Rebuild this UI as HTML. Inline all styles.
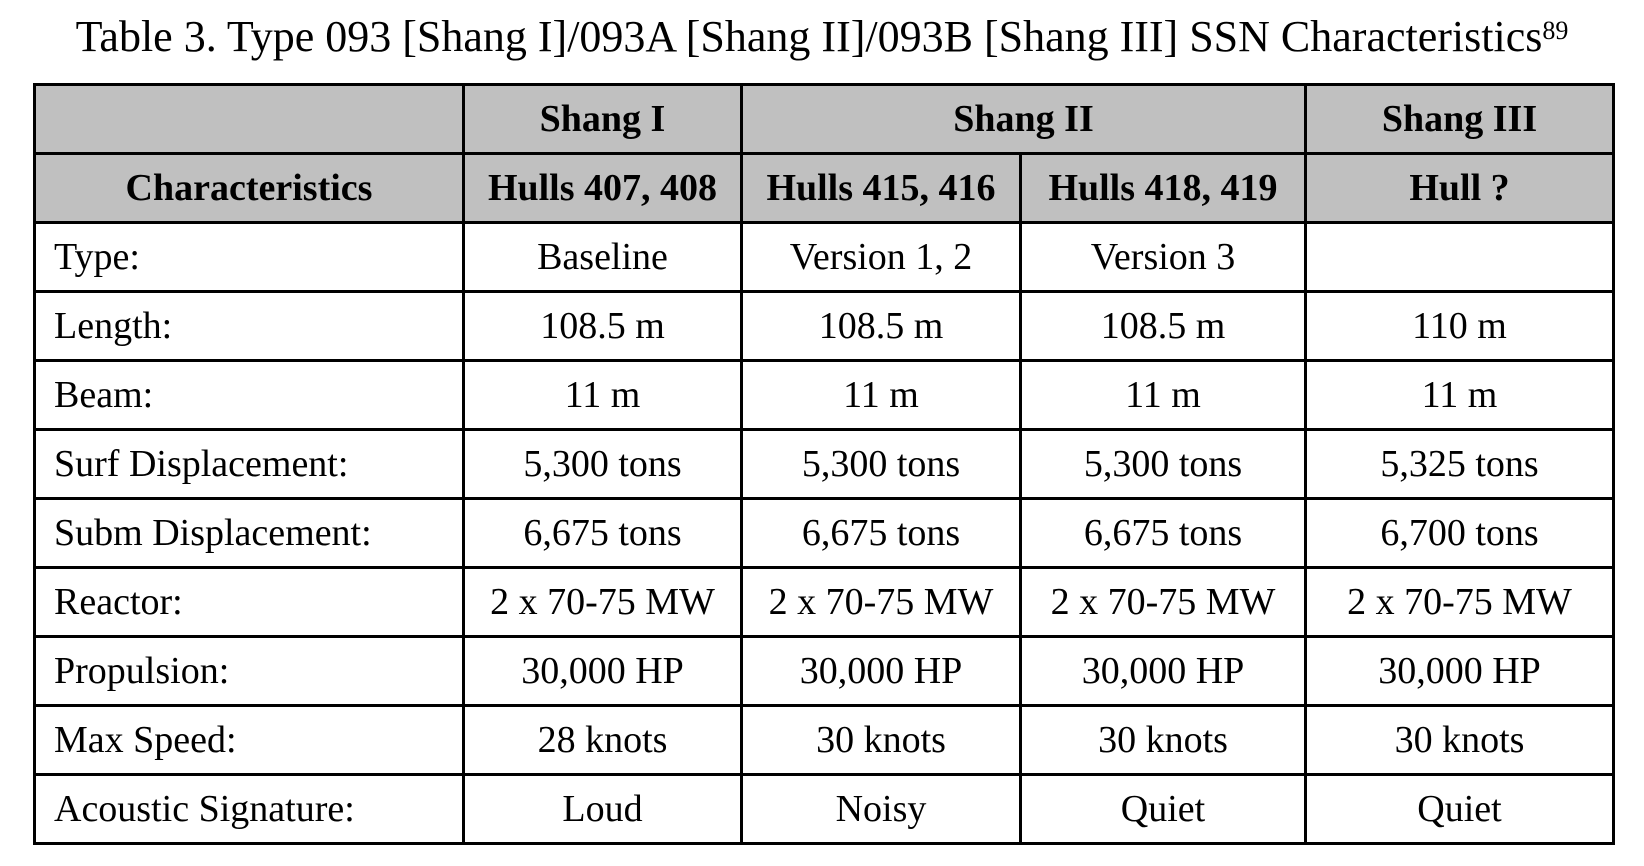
<!DOCTYPE html>
<html><head><style>
body{margin:0;width:1644px;height:866px;background:#fff;font-family:"Liberation Serif",serif;position:relative;overflow:hidden}
.t{position:absolute;top:8px;left:0;width:1644px;text-align:center;font-size:44px;line-height:58px;color:#000}
.t sup{font-size:26px;vertical-align:top;position:relative;top:-6px}
table{position:absolute;left:33px;top:83px;border-collapse:collapse;table-layout:fixed}
td{border:3px solid #000;height:66px;font-size:38px;text-align:center;padding:0;white-space:nowrap}
td.l{text-align:left;padding-left:18px}
.h td{background:#c0c0c0;font-weight:bold}
</style></head><body>
<div class="t">Table 3. Type 093 [Shang I]/093A [Shang II]/093B [Shang III] SSN Characteristics<sup>89</sup></div>
<table>
<colgroup><col style="width:429px"><col style="width:278px"><col style="width:279px"><col style="width:285px"><col style="width:308px"></colgroup>
<tr class="h"><td></td><td>Shang I</td><td colspan="2">Shang II</td><td>Shang III</td></tr>
<tr class="h"><td>Characteristics</td><td>Hulls 407, 408</td><td>Hulls 415, 416</td><td>Hulls 418, 419</td><td>Hull ?</td></tr>
<tr><td class="l">Type:</td><td>Baseline</td><td>Version 1, 2</td><td>Version 3</td><td></td></tr>
<tr><td class="l">Length:</td><td>108.5 m</td><td>108.5 m</td><td>108.5 m</td><td>110 m</td></tr>
<tr><td class="l">Beam:</td><td>11 m</td><td>11 m</td><td>11 m</td><td>11 m</td></tr>
<tr><td class="l">Surf Displacement:</td><td>5,300 tons</td><td>5,300 tons</td><td>5,300 tons</td><td>5,325 tons</td></tr>
<tr><td class="l">Subm Displacement:</td><td>6,675 tons</td><td>6,675 tons</td><td>6,675 tons</td><td>6,700 tons</td></tr>
<tr><td class="l">Reactor:</td><td>2 x 70-75 MW</td><td>2 x 70-75 MW</td><td>2 x 70-75 MW</td><td>2 x 70-75 MW</td></tr>
<tr><td class="l">Propulsion:</td><td>30,000 HP</td><td>30,000 HP</td><td>30,000 HP</td><td>30,000 HP</td></tr>
<tr><td class="l">Max Speed:</td><td>28 knots</td><td>30 knots</td><td>30 knots</td><td>30 knots</td></tr>
<tr><td class="l">Acoustic Signature:</td><td>Loud</td><td>Noisy</td><td>Quiet</td><td>Quiet</td></tr>
</table>
</body></html>
